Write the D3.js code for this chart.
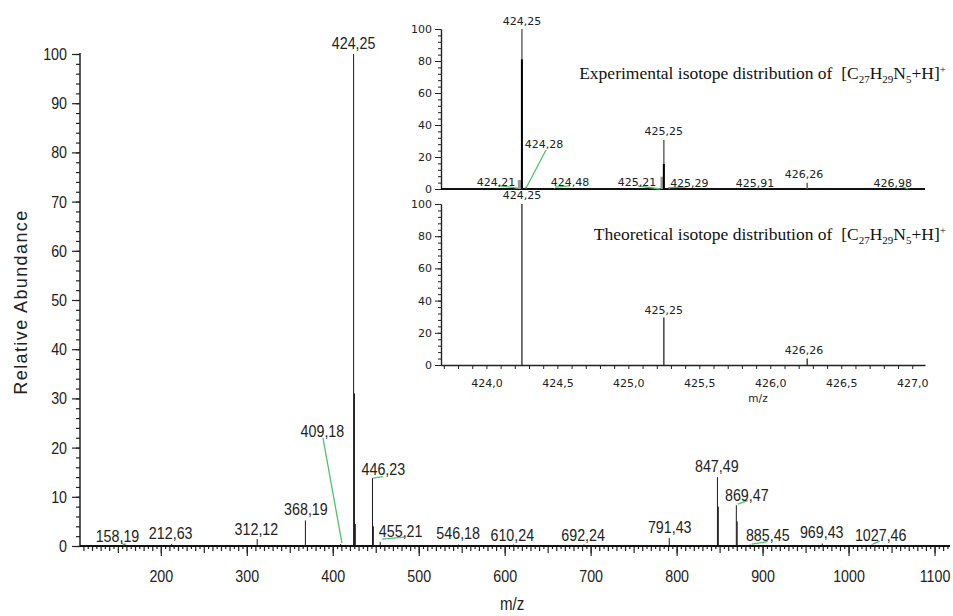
<!DOCTYPE html>
<html>
<head>
<meta charset="utf-8">
<script src="https://cdn.jsdelivr.net/npm/d3@7"></script>
<style>
    body { margin: 0; background: #fff; }
    svg { display: block; }
    .narrow text { font-family: "Liberation Sans", Arial, sans-serif; }
    .inset text { font-family: "DejaVu Sans", Verdana, sans-serif; }
</style>
</head>
<body>
<svg id="chartSVG" width="953" height="616"></svg>
<script>
/* ---------- Main spectrum ---------- */
const mainPeakMz = [158.19, 212.63, 312.12, 368.19, 409.18, 424.25, 425.25, 426.26, 446.23, 447.23, 455.21,
                    546.18, 610.24, 692.24, 791.43, 847.49, 848.49, 869.47, 870.47, 885.45, 969.43, 1027.46];
const mainPeakAbund = [0.5, 0.4, 1.4, 5.2, 0.4, 100, 31, 4.5, 13.8, 4, 0.8,
                       0.3, 0.3, 0.3, 1.6, 14, 8, 8.3, 5, 0.3, 0.5, 0.3];

// labelled peaks and where each label sits (in m/z, abundance)
const mainLabelMz = [158.19, 212.63, 312.12, 368.19, 409.18, 424.25, 446.23, 455.21, 546.18,
                     610.24, 692.24, 791.43, 847.49, 869.47, 885.45, 969.43, 1027.46];
const mainLabelAtMz = [149.6, 211.5, 311.2, 368.8, 388, 424.25, 458.9, 479, 545.9,
                       608.9, 691.2, 792, 846.7, 881.6, 906, 968.8, 1037.4];
const mainLabelAtAbund = [0.9, 1.5, 2.2, 6.3, 22.2, 101, 14.4, 1.9, 1.4,
                          1.1, 1.1, 2.7, 15.1, 9.2, 1.1, 1.6, 1.1];
// green leader lines [mz1, ab1, mz2, ab2]
const mainLeaders = [[153.7, 0.8, 157.2, 0.2], [388.6, 22, 410.7, 0.6], [446.7, 13.8, 458.3, 14.1],
                     [457.2, 1.4, 483.9, 1.8], [871.1, 8.5, 882.7, 9.2], [887.4, 0.4, 906, 0.9],
                     [1028.1, 0.4, 1036.2, 1.0]];

const mainXTicks = [200, 300, 400, 500, 600, 700, 800, 900, 1000, 1100];
const mainYTicks = [0, 10, 20, 30, 40, 50, 60, 70, 80, 90, 100];

/* ---------- Inset: experimental isotope pattern ---------- */
const expPeakMz = [424.21, 424.25, 424.28, 424.48, 425.21, 425.25, 425.29, 425.91, 426.26, 426.98];
const expPeakAbund = [0.6, 100, 1.5, 0.5, 0.6, 30.6, 0.6, 0.3, 3.9, 0.5];
const expCoreMz = [424.25, 425.25];
const expCoreAbund = [81, 15.6];
const expShoulderMz = [424.235, 425.24];
const expShoulderAbund = [5.6, 7.7];

const expLabelMz = [424.25, 424.28, 424.21, 424.48, 425.21, 425.25, 425.29, 425.91, 426.26, 426.98];
const expLabelAtMz = [424.25, 424.406, 424.068, 424.589, 425.061, 425.25, 425.43, 425.893, 426.238, 426.863];
const expLabelAtAbund = [102.5, 25.6, 1.7, 1.7, 1.7, 33.5, 1.4, 1.4, 6.9, 1.4];
const expLeaders = [[424.42, 24.4, 424.284, 1.4], [424.082, 2.1, 424.223, 0.6], [424.483, 1.2, 424.589, 1.9],
                    [425.068, 1.9, 425.223, 0], [425.28, 0.8, 425.411, 1.2], [426.915, 1.9, 426.971, 0]];

/* ---------- Inset: theoretical isotope pattern ---------- */
const theoPeakMz = [424.25, 425.25, 426.26];
const theoPeakAbund = [100, 29.5, 4];
const theoLabelAtMz = [424.25, 425.25, 426.238];
const theoLabelAtAbund = [102.8, 31.6, 6.6];

const insetXTicks = [424.0, 424.5, 425.0, 425.5, 426.0, 426.5, 427.0];
const insetYTicks = [0, 20, 40, 60, 80, 100];

const greenLeader = "#4cc46c";
const commaFmt = (f) => (v) => d3.format(f)(v).replace(".", ",");

var svg = d3.select("#chartSVG");

/**
 * squeeze text horizontally around its x anchor (no narrow font installed)
 */
var condense = function(sel) {
    sel.each(function() {
        var x = +d3.select(this).attr("x") || 0;
        d3.select(this).attr("transform", "translate(" + x + ",0) scale(0.84,1) translate(" + -x + ",0)");
    });
};

/* ---------- Scales ---------- */
var xMain = d3.scaleLinear().domain([106, 1118]).range([80, 950]);
var yMain = d3.scaleLinear().domain([0, 100]).range([546, 54]);
var xIns = d3.scaleLinear().domain([423.68, 427.09]).range([441, 925]);
var yTop = d3.scaleLinear().domain([0, 100]).range([189, 29]);
var yBot = d3.scaleLinear().domain([0, 100]).range([365, 204]);

/* ---------- Main axes ---------- */
var main = svg.append("g").attr("class", "narrow");

main.append("g").attr("transform", "translate(80,0)")
    .call(d3.axisLeft(yMain).tickValues(d3.range(0, 101, 2)).tickSize(4).tickSizeOuter(0).tickFormat(""));
main.append("g").attr("transform", "translate(80,0)")
    .call(d3.axisLeft(yMain).tickValues(mainYTicks).tickSize(8).tickSizeOuter(0).tickPadding(5));

var xMinor = main.append("g").attr("transform", "translate(0,546)")
    .call(d3.axisBottom(xMain).tickValues(d3.range(110, 1118, 5)).tickFormat("").tickSizeOuter(0).tickSize(3));
xMinor.selectAll(".tick line").attr("y2", (d) => d % 50 === 0 ? 7 : (d % 10 === 0 ? 5 : 3));
main.append("g").attr("transform", "translate(0,546)")
    .call(d3.axisBottom(xMain).tickValues(mainXTicks).tickSize(10).tickSizeOuter(0).tickPadding(14)
        .tickFormat(d3.format("d")));

main.selectAll(".domain").remove();
main.selectAll(".tick line").attr("stroke", "#222").attr("stroke-width", 1.2);
main.selectAll(".tick text").attr("font-size", 17).attr("fill", "#222")
    .attr("font-family", "'Liberation Sans', Arial, sans-serif");

main.append("line").attr("x1", 80).attr("x2", 80).attr("y1", yMain(100) - 1).attr("y2", yMain(0))
    .attr("stroke", "#222").attr("stroke-width", 1.5);
main.append("line").attr("x1", xMain.range()[0]).attr("x2", xMain.range()[1])
    .attr("y1", yMain(0)).attr("y2", yMain(0)).attr("stroke", "#111").attr("stroke-width", 2);

/* ---------- Main peaks ---------- */
main.append("g").selectAll("line").data(d3.range(mainPeakMz.length)).enter().append("line")
    .attr("x1", (i) => xMain(mainPeakMz[i])).attr("x2", (i) => xMain(mainPeakMz[i]))
    .attr("y1", yMain(0)).attr("y2", (i) => yMain(mainPeakAbund[i]))
    .attr("stroke", "#1a1a1a").attr("stroke-width", 1);

main.append("g").selectAll("line").data(mainLeaders).enter().append("line")
    .attr("x1", (d) => xMain(d[0])).attr("y1", (d) => yMain(d[1]))
    .attr("x2", (d) => xMain(d[2])).attr("y2", (d) => yMain(d[3]))
    .attr("stroke", greenLeader).attr("stroke-width", 1.3);

main.append("g").selectAll("text").data(d3.range(mainLabelMz.length)).enter().append("text")
    .attr("x", (i) => xMain(mainLabelAtMz[i])).attr("y", (i) => yMain(mainLabelAtAbund[i]))
    .attr("text-anchor", "middle").attr("font-size", 17).attr("fill", "#222")
    .text((i) => commaFmt(".2f")(mainLabelMz[i]));

/* ---------- Main axis captions ---------- */
svg.append("text")
    .text("Relative Abundance")
    .attr("font-family", "'Liberation Sans', Arial, sans-serif")
    .attr("font-size", 18).attr("letter-spacing", 1.4).attr("fill", "#222")
    .attr("text-anchor", "middle")
    .attr("transform", "translate(" + 27 + "," + 302 + ")" + "rotate(-90)");
main.append("text").text("m/z").attr("x", 500).attr("y", 610)
    .attr("font-size", 18).attr("fill", "#222");

condense(main.selectAll("text"));

/* ---------- Inset ---------- */
var inset = svg.append("g").attr("class", "inset");

var drawInsetY = function(yScale) {
    var g1 = inset.append("g").attr("transform", "translate(441,0)")
        .call(d3.axisLeft(yScale).tickValues(d3.range(0, 101, 4)).tickSize(3).tickSizeOuter(0).tickFormat(""));
    var g2 = inset.append("g").attr("transform", "translate(441,0)")
        .call(d3.axisLeft(yScale).tickValues(insetYTicks).tickSize(6).tickSizeOuter(0).tickPadding(3));
    [g1, g2].forEach((g) => {
        g.select(".domain").attr("stroke", "#222").attr("stroke-width", 1.2);
        g.selectAll(".tick line").attr("stroke", "#222");
        g.selectAll(".tick text").attr("font-size", 11).attr("fill", "#222")
            .attr("font-family", "'DejaVu Sans', Verdana, sans-serif");
    });
};
drawInsetY(yTop);
drawInsetY(yBot);

// experimental x axis: plain line
inset.append("line").attr("x1", xIns.range()[0]).attr("x2", xIns.range()[1])
    .attr("y1", yTop(0)).attr("y2", yTop(0)).attr("stroke", "#111").attr("stroke-width", 2);

// theoretical x axis with ticks every 0.1
var insetMinor = d3.range(4237, 4271, 1).map((v) => v / 10);
var gx = inset.append("g").attr("transform", "translate(0," + yBot(0) + ")")
    .call(d3.axisBottom(xIns).tickValues(insetMinor).tickSize(4).tickSizeOuter(0).tickPadding(10)
        .tickFormat((v) => insetXTicks.some((t) => Math.abs(t - v) < 1e-6) ? commaFmt(".1f")(v) : ""));
gx.select(".domain").attr("stroke", "#222").attr("stroke-width", 1.5);
gx.selectAll(".tick line").attr("stroke", "#222");
gx.selectAll(".tick text").attr("font-size", 11).attr("fill", "#222")
    .attr("font-family", "'DejaVu Sans', Verdana, sans-serif");
inset.append("text").text("m/z").attr("x", 758).attr("y", 402).attr("text-anchor", "middle")
    .attr("font-size", 10.5).attr("fill", "#222");

// experimental peaks
inset.append("g").selectAll("line").data(d3.range(expShoulderMz.length)).enter().append("line")
    .attr("x1", (i) => xIns(expShoulderMz[i])).attr("x2", (i) => xIns(expShoulderMz[i]))
    .attr("y1", yTop(0)).attr("y2", (i) => yTop(expShoulderAbund[i]))
    .attr("stroke", "#999").attr("stroke-width", 4);
inset.append("g").selectAll("line").data(d3.range(expPeakMz.length)).enter().append("line")
    .attr("x1", (i) => xIns(expPeakMz[i])).attr("x2", (i) => xIns(expPeakMz[i]))
    .attr("y1", yTop(0)).attr("y2", (i) => yTop(expPeakAbund[i]))
    .attr("stroke", "#666").attr("stroke-width", 1.5);
inset.append("g").selectAll("line").data(d3.range(expCoreMz.length)).enter().append("line")
    .attr("x1", (i) => xIns(expCoreMz[i])).attr("x2", (i) => xIns(expCoreMz[i]))
    .attr("y1", yTop(0)).attr("y2", (i) => yTop(expCoreAbund[i]))
    .attr("stroke", "#000").attr("stroke-width", 2);
inset.append("g").selectAll("line").data(expLeaders).enter().append("line")
    .attr("x1", (d) => xIns(d[0])).attr("y1", (d) => yTop(d[1]))
    .attr("x2", (d) => xIns(d[2])).attr("y2", (d) => yTop(d[3]))
    .attr("stroke", greenLeader).attr("stroke-width", 1.3);
inset.append("g").selectAll("text").data(d3.range(expLabelMz.length)).enter().append("text")
    .attr("x", (i) => xIns(expLabelAtMz[i])).attr("y", (i) => yTop(expLabelAtAbund[i]))
    .attr("text-anchor", "middle").attr("font-size", 11).attr("fill", "#222")
    .text((i) => commaFmt(".2f")(expLabelMz[i]));

// theoretical peaks
inset.append("g").selectAll("line").data(d3.range(theoPeakMz.length)).enter().append("line")
    .attr("x1", (i) => xIns(theoPeakMz[i])).attr("x2", (i) => xIns(theoPeakMz[i]))
    .attr("y1", yBot(0)).attr("y2", (i) => yBot(theoPeakAbund[i]))
    .attr("stroke", "#444").attr("stroke-width", 1.5);
inset.append("g").selectAll("text").data(d3.range(theoPeakMz.length)).enter().append("text")
    .attr("x", (i) => xIns(theoLabelAtMz[i])).attr("y", (i) => yBot(theoLabelAtAbund[i]))
    .attr("text-anchor", "middle").attr("font-size", 11).attr("fill", "#222")
    .text((i) => commaFmt(".2f")(theoPeakMz[i]));

/* ---------- Inset titles ---------- */
var addTitle = function(prefix, y) {
    var t = inset.append("text").attr("x", 946).attr("y", y).attr("text-anchor", "end")
        .style("font-family", "'Liberation Serif', 'Times New Roman', serif")
        .attr("font-size", 17.5).attr("fill", "#111");
    t.append("tspan").text(prefix + " isotope distribution of\u00a0\u00a0[C");
    t.append("tspan").text("27").attr("font-size", 11).attr("dy", 4);
    t.append("tspan").text("H").attr("dy", -4);
    t.append("tspan").text("29").attr("font-size", 11).attr("dy", 4);
    t.append("tspan").text("N").attr("dy", -4);
    t.append("tspan").text("5").attr("font-size", 11).attr("dy", 4);
    t.append("tspan").text("+H]").attr("dy", -4);
    t.append("tspan").text("+").attr("font-size", 11).attr("dy", -6);
};
addTitle("Experimental", 79);
addTitle("Theoretical", 240);
</script>
</body>
</html>
